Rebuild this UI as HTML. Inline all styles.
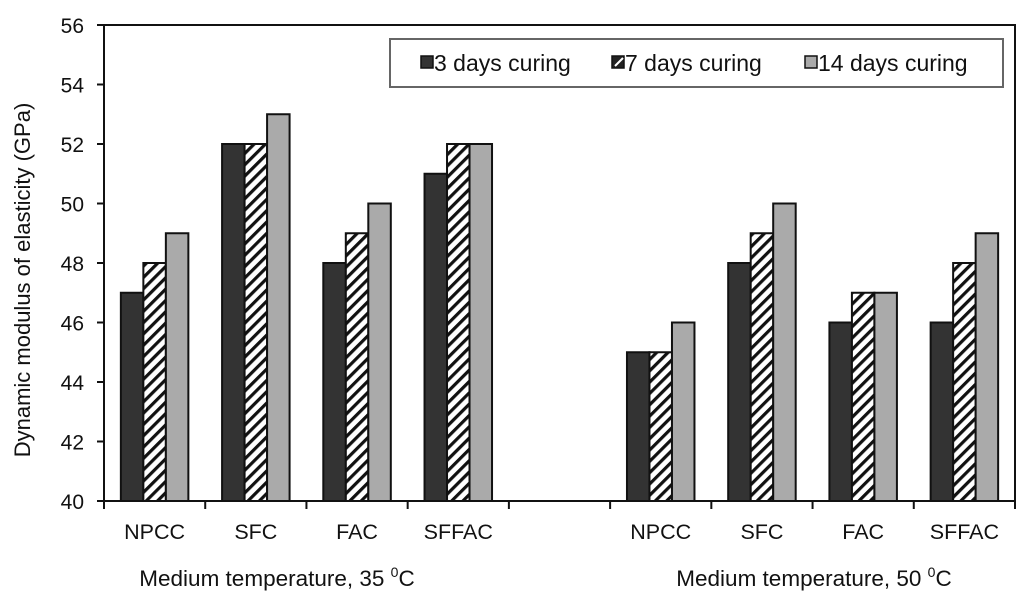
<!DOCTYPE html>
<html><head><meta charset="utf-8"><style>
body{margin:0;background:#fff;}
svg text{font-family:"Liberation Sans",Arial,sans-serif;fill:#111;}
</style></head><body>
<svg id="c" width="1024" height="599" xmlns="http://www.w3.org/2000/svg">
<defs>
<pattern id="hatch" patternUnits="userSpaceOnUse" width="8" height="8" patternTransform="rotate(45)">
<rect width="8" height="8" fill="#fff"/><rect width="3.2" height="8" fill="#111"/>
</pattern>
</defs>
</svg>
<script>
const categories=["NPCC","SFC","FAC","SFFAC","","NPCC","SFC","FAC","SFFAC"];
const series3=[47,52,48,51,null,45,48,46,46];
const series7=[48,52,49,52,null,45,49,47,48];
const series14=[49,53,50,52,null,46,50,47,49];
const yTicks=[40,42,44,46,48,50,52,54,56];
const seriesNames=["3 days curing","7 days curing","14 days curing"];
const groupTitles=["Medium temperature, 35 ","Medium temperature, 50 "];

const L=104,R=1015,T=25,B=501,ymin=40,ymax=56;
const slot=(R-L)/categories.length;
const y=v=>B-(v-ymin)/(ymax-ymin)*(B-T);
const xc=i=>L+slot*(i+0.5);
const NS="http://www.w3.org/2000/svg";
const svg=document.getElementById('c');
function mk(t,a,p){const e=document.createElementNS(NS,t);for(const k in a)e.setAttribute(k,a[k]);(p||svg).appendChild(e);return e;}

let f=mk('rect',{x:L,y:T,width:R-L,height:B-T,fill:'none',stroke:'#111','stroke-width':2});


yTicks.forEach(v=>{
  let t=mk('line',{x1:L-7,x2:L,y1:y(v),y2:y(v),stroke:'#111','stroke-width':2});
  
  
  let l=mk('text',{x:L-20,y:y(v)+8,'text-anchor':'end','font-size':21});
  l.textContent=v;
  
  
});
for(let i=0;i<=categories.length;i++){
  let t=mk('line',{x1:L+slot*i,x2:L+slot*i,y1:B,y2:B+8,stroke:'#111','stroke-width':2});
  
  
}
categories.forEach((c,i)=>{
  if(!c)return;
  let l=mk('text',{x:xc(i),y:539,'text-anchor':'middle','font-size':21.5});
  l.textContent=c;
  
  
});
const bw=22.5;
const fills=['#333','url(#hatch)','#aaa'];
[series3,series7,series14].forEach((s,k)=>{
  s.forEach((v,i)=>{
    if(v==null)return;
    let r=mk('rect',{x:xc(i)-1.5*bw+k*bw,y:y(v),width:bw,height:B-y(v),fill:fills[k],stroke:'#111','stroke-width':2});
    
    
  });
});
[277,814].forEach((cx,g)=>{
  let t=mk('text',{x:cx,y:586,'text-anchor':'middle','font-size':22.5});
  t.textContent=groupTitles[g];
  let sup=mk('tspan',{dy:-9,'font-size':14},t);sup.textContent='0';
  let cc=mk('tspan',{dy:9},t);cc.textContent='C';
  
  
});
let yt=mk('text',{x:0,y:0,'text-anchor':'middle','font-size':22,transform:'translate(30,280) rotate(-90)'});
yt.textContent='Dynamic modulus of elasticity (GPa)';


let lg=mk('g',{});


mk('rect',{x:390,y:39,width:613,height:48,fill:'#fff',stroke:'#666','stroke-width':2},lg);
const lx=[421,612,805];
seriesNames.forEach((n,k)=>{
  let e=mk('g',{},lg);
  
  
  mk('rect',{x:lx[k],y:56,width:12,height:12,fill:k==1?'#222':fills[k],stroke:'#111','stroke-width':1.5},e);
  if(k==1)mk('line',{x1:lx[k]+3,y1:66,x2:lx[k]+11,y2:58,stroke:'#fff','stroke-width':2},e);
  let t=mk('text',{x:lx[k]+13,y:71,'font-size':23},e);
  t.textContent=n;
});
</script>
</body></html>
